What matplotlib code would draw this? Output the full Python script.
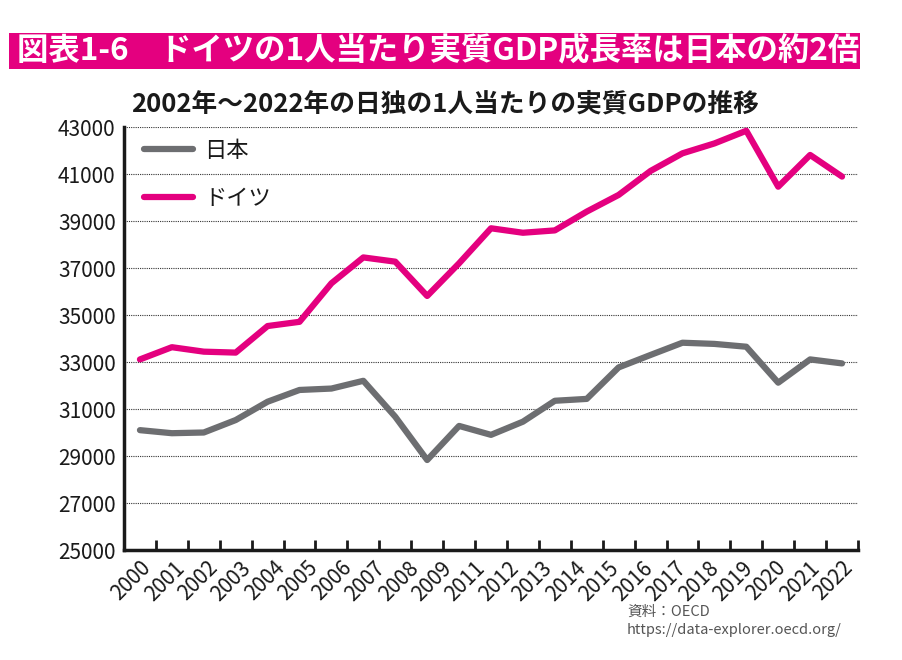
import numpy as np
import matplotlib
matplotlib.use("Agg")
import matplotlib.pyplot as plt
from matplotlib.patches import Rectangle

plt.rcParams['font.family'] = ['Noto Sans CJK JP', 'DejaVu Sans']

# ---- данные ----
years = list(range(2000, 2023))
# подписи оси X как на оригинале (2010 пропущен)
tick_labels = ['2000', '2001', '2002', '2003', '2004', '2005', '2006', '2007',
               '2008', '2009', '2011', '2012', '2013', '2014', '2015', '2016',
               '2017', '2018', '2019', '2020', '2021', '2022']
japan = [30100, 29970, 30000, 30530, 31310, 31810, 31870, 32200, 30670, 28830,
         30280, 29900, 30460, 31350, 31430, 32770, 33300, 33820, 33770, 33650,
         32120, 33110, 32940]
germany = [33110, 33630, 33440, 33400, 34530, 34710, 36350, 37450, 37270, 35810,
           37200, 38690, 38500, 38600, 39400, 40110, 41130, 41880, 42300, 42840,
           40460, 41810, 40890]

col_jp = '#6d6e71'
col_de = '#e4007f'

fig = plt.figure(figsize=(9.03, 6.6), dpi=100)

# заголовок-плашка
fig.patches.append(Rectangle((9 / 903, 1 - 69 / 660), 851 / 903, 36 / 660,
                             transform=fig.transFigure, facecolor=col_de,
                             edgecolor='none'))
fig.text(17 / 903, 1 - 51 / 660, '図表1-6　ドイツの1人当たり実質GDP成長率は日本の約2倍',
         color='white', fontsize=22.6, fontweight='bold', ha='left', va='center')
fig.text(445 / 903, 1 - 104 / 660, '2002年～2022年の日独の1人当たりの実質GDPの推移',
         color='#1a1a1a', fontsize=18.5, fontweight='bold', ha='center', va='center')

ax = fig.add_axes([124 / 903, 1 - 550 / 660, 734 / 903, 423 / 660])
x = np.arange(len(years))
ax.plot(x, japan, color=col_jp, linewidth=4.5, label='日本', solid_capstyle='round')
ax.plot(x, germany, color=col_de, linewidth=4.5, label='ドイツ', solid_capstyle='round')

ax.set_xlim(-0.5, len(years) - 0.5)
ax.set_ylim(25000, 43000)
ax.set_yticks(np.arange(25000, 43001, 2000))
ax.tick_params(axis='y', length=0, labelsize=15, pad=6, labelcolor='#1a1a1a')

label_pos = np.linspace(0, len(years) - 1, len(tick_labels))
ax.set_xticks(label_pos)
ax.set_xticklabels(tick_labels, rotation=45, ha='right', va='top',
                   rotation_mode='anchor', fontsize=15, color='#1a1a1a')
ax.set_xticks(np.arange(-0.5, len(years)), minor=True)
ax.tick_params(axis='x', which='major', length=0, pad=5)
ax.tick_params(axis='x', which='minor', direction='in', length=7, width=2, color='#1a1a1a')

ax.grid(axis='y', linestyle=(0, (1, 1)), color='#333333', linewidth=0.8)
ax.set_axisbelow(True)
for s in ['top', 'right']:
    ax.spines[s].set_visible(False)
for s in ['left', 'bottom']:
    ax.spines[s].set_linewidth(2.5)
    ax.spines[s].set_color('#1a1a1a')

leg = ax.legend(loc='upper left', frameon=False, fontsize=16, handlelength=2.2,
                handletextpad=0.5, labelspacing=1.15, bbox_to_anchor=(0.0, 1.02))
for t in leg.get_texts():
    t.set_color('#1a1a1a')

fig.text(627 / 903, 1 - 612 / 660, '資料：OECD', color='#555555', fontsize=10.5,
         ha='left', va='center')
fig.text(627 / 903, 1 - 630 / 660, 'https://data-explorer.oecd.org/', color='#555555',
         fontsize=10.5, ha='left', va='center')

fig.savefig('out.png', dpi=100)
